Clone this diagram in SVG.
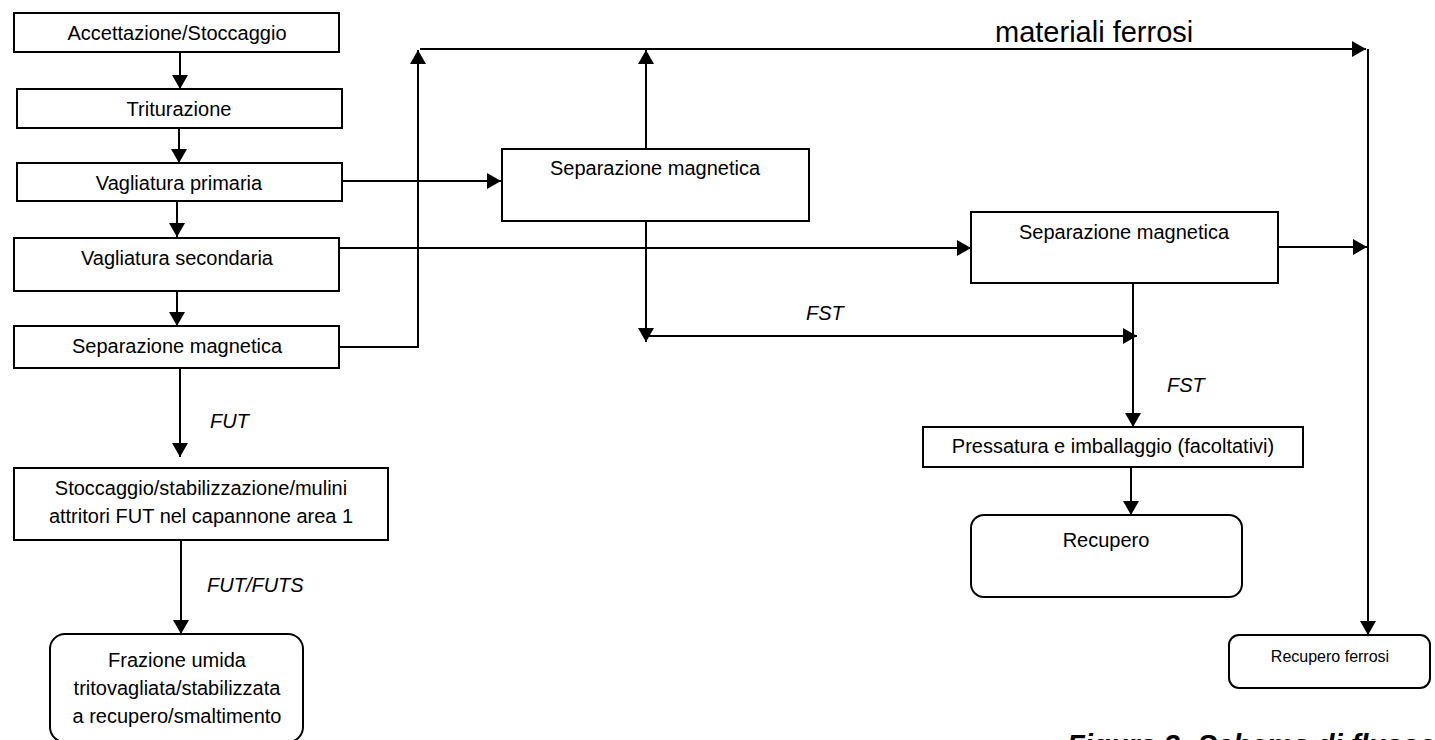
<svg xmlns="http://www.w3.org/2000/svg" width="1435" height="740" viewBox="0 0 1435 740">
<style>
.box{fill:#fff;stroke:#000;stroke-width:2}
.t{font-family:"Liberation Sans",Arial,sans-serif;font-size:20px;fill:#000;text-anchor:middle}
.lbl{font-family:"Liberation Sans",Arial,sans-serif;font-size:20px;font-style:italic;fill:#000}
.ln{fill:none;stroke:#000;stroke-width:2}
.ar{fill:none;stroke:#000;stroke-width:2;marker-end:url(#ah)}
</style>
<defs>
<marker id="ah" markerUnits="userSpaceOnUse" markerWidth="15" markerHeight="16" refX="14" refY="8" orient="auto">
<path d="M0,0 L14,8 L0,16 z" fill="#000"/>
</marker>
</defs>
<rect width="1435" height="740" fill="#fff"/>

<g id="connectors">
<line class="ar" x1="180" y1="52" x2="180" y2="89"/>
<line class="ar" x1="179" y1="128" x2="179" y2="163"/>
<line class="ar" x1="177" y1="201" x2="177" y2="237"/>
<line class="ar" x1="177" y1="291" x2="177" y2="326"/>
<line class="ar" x1="180" y1="368" x2="180" y2="457"/>
<line class="ar" x1="181" y1="540" x2="181" y2="634"/>
<line class="ar" x1="342" y1="181" x2="501" y2="181"/>
<line class="ar" x1="339" y1="248" x2="971" y2="248"/>
<polyline class="ar" points="339,347 418,347 418,50"/>
<line class="ar" x1="420" y1="49" x2="1366" y2="49"/>
<line class="ar" x1="646" y1="149" x2="646" y2="50"/>
<line class="ar" x1="646" y1="221" x2="646" y2="342"/>
<line class="ar" x1="648" y1="336" x2="1137" y2="336"/>
<line class="ar" x1="1278" y1="247" x2="1367" y2="247"/>
<line class="ar" x1="1368" y1="49" x2="1368" y2="635"/>
<line class="ar" x1="1133" y1="283" x2="1133" y2="427"/>
<line class="ar" x1="1131" y1="467" x2="1131" y2="515"/>
<text class="lbl" x="210" y="428">FUT</text>
<text class="lbl" x="207" y="592">FUT/FUTS</text>
<text class="lbl" x="806" y="320">FST</text>
<text class="lbl" x="1167" y="392">FST</text>
<text x="995" y="42" style="font-family:'Liberation Sans',Arial,sans-serif;font-size:29px;fill:#000">materiali ferrosi</text>
</g>

<g id="n1"><rect class="box" x="14" y="13" width="325" height="39"/><text class="t" x="177" y="40">Accettazione/Stoccaggio</text></g>
<g id="n2"><rect class="box" x="17" y="89" width="325" height="39"/><text class="t" x="179" y="116">Triturazione</text></g>
<g id="n3"><rect class="box" x="17" y="163" width="325" height="38"/><text class="t" x="179" y="190">Vagliatura primaria</text></g>
<g id="n4"><rect class="box" x="14" y="238" width="325" height="53"/><text class="t" x="177" y="265">Vagliatura secondaria</text></g>
<g id="n5"><rect class="box" x="14" y="326" width="325" height="42"/><text class="t" x="177" y="353">Separazione magnetica</text></g>
<g id="n6"><rect class="box" x="14" y="468" width="374" height="72"/><text class="t" x="201" y="495">Stoccaggio/stabilizzazione/mulini</text><text class="t" x="201" y="523">attritori FUT nel capannone area 1</text></g>
<g id="n7"><rect class="box" x="50" y="634" width="253" height="108" rx="15" ry="15"/><text class="t" x="177" y="667">Frazione umida</text><text class="t" x="177" y="695">tritovagliata/stabilizzata</text><text class="t" x="177" y="723">a recupero/smaltimento</text></g>
<g id="n8"><rect class="box" x="502" y="149" width="307" height="72"/><text class="t" x="655" y="175">Separazione magnetica</text></g>
<g id="n9"><rect class="box" x="971" y="212" width="307" height="71"/><text class="t" x="1124" y="239">Separazione magnetica</text></g>
<g id="n10"><rect class="box" x="923" y="427" width="380" height="40"/><text class="t" x="1113" y="453">Pressatura e imballaggio (facoltativi)</text></g>
<g id="n11"><rect class="box" x="971" y="515" width="271" height="82" rx="13" ry="13"/><text class="t" x="1106" y="547">Recupero</text></g>
<g id="n12"><rect class="box" x="1229" y="635" width="201" height="53" rx="10" ry="10"/><text class="t" x="1330" y="662" style="font-size:16px">Recupero ferrosi</text></g>

<text x="1067" y="755" style="font-family:'Liberation Sans',Arial,sans-serif;font-size:29px;font-weight:bold;font-style:italic;fill:#000">Figura 3:  Schema di flusso</text>
</svg>
